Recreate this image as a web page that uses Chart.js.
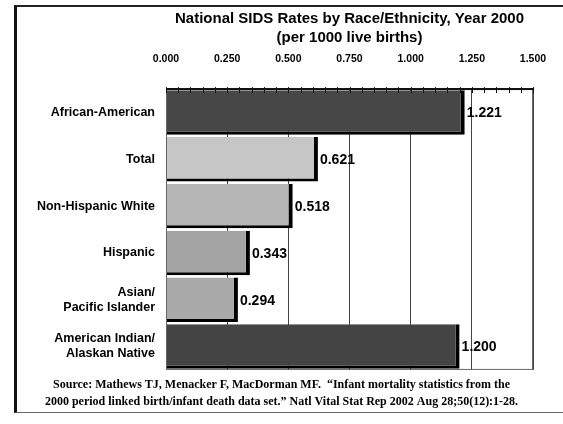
<!DOCTYPE html>
<html>
<head>
<meta charset="utf-8">
<script src="https://cdn.jsdelivr.net/npm/chart.js@4/dist/chart.umd.min.js"></script>
<style>
  html, body { margin: 0; padding: 0; background: #fff; overflow: hidden; }
  #wrap { position: relative; width: 563px; height: 424px; }
  canvas { display: block; }
  #frame { position: absolute; left: 14px; top: 5px; width: 560px; height: 408px;
           border-left: 3px solid #111; border-top: 2px solid #222; border-bottom: 1px solid #666;
           pointer-events: none; box-sizing: border-box; }
</style>
</head>
<body>
<div id="wrap">
  <canvas id="c" width="563" height="424"></canvas>
  <div id="frame"></div>
</div>
<script>
const categories = [
  "African-American",
  "Total",
  "Non-Hispanic White",
  "Hispanic",
  ["Asian/", "Pacific Islander"],
  ["American Indian/", "Alaskan Native"]
];
const rates = [1.221, 0.621, 0.518, 0.343, 0.294, 1.200];
const barColors = ["#474747", "#c6c6c6", "#b6b6b6", "#a4a4a4", "#a9a9a9", "#444444"];
const titleLines = ["National SIDS Rates by Race/Ethnicity, Year 2000", "(per 1000 live births)"];
const sourceLines = [
  "Source: Mathews TJ, Menacker F, MacDorman MF.  \u201cInfant mortality statistics from the",
  "2000 period linked birth/infant death data set.\u201d Natl Vital Stat Rep 2002 Aug 28;50(12):1-28."
];
const axisMin = 0, axisMax = 1.5, axisStep = 0.25, minorStep = 0.05;

const decor = {
  id: 'decor',
  afterDatasetsDraw(chart) {
    const { ctx, chartArea: a, scales: { x } } = chart;
    ctx.save();
    ctx.strokeStyle = '#666';
    ctx.lineWidth = 1;
    ctx.strokeRect(a.left + 0.5, a.top + 0.5, a.right - a.left - 1, a.bottom - a.top - 1);
    ctx.strokeStyle = '#111';
    ctx.lineWidth = 2;
    ctx.beginPath();
    ctx.moveTo(a.left, a.top);
    ctx.lineTo(a.right, a.top);
    ctx.stroke();
    ctx.lineWidth = 1;
    const n = Math.round((axisMax - axisMin) / minorStep);
    for (let i = 0; i <= n; i++) {
      const px = Math.round(x.getPixelForValue(axisMin + i * minorStep)) + 0.5;
      ctx.beginPath();
      ctx.moveTo(px, a.top - 2);
      ctx.lineTo(px, a.top + 4);
      ctx.stroke();
    }
    ctx.fillStyle = '#000';
    ctx.font = 'bold 14px "Liberation Sans", Arial, sans-serif';
    ctx.textAlign = 'left';
    ctx.textBaseline = 'middle';
    const meta = chart.getDatasetMeta(0);
    meta.data.forEach((bar, i) => {
      ctx.fillText(rates[i].toFixed(3), bar.x + 2, bar.y + 1);
    });
    ctx.restore();
  }
};

new Chart(document.getElementById('c'), {
  type: 'bar',
  data: {
    labels: categories,
    datasets: [{
      data: rates,
      backgroundColor: barColors,
      borderColor: '#000',
      borderWidth: { top: 0, left: 0, right: 4, bottom: 3 },
      borderSkipped: false,
      barPercentage: 0.95,
      categoryPercentage: 1.0
    }]
  },
  options: {
    indexAxis: 'y',
    responsive: false,
    animation: false,
    devicePixelRatio: 1,
    layout: { padding: { top: 9, right: 30, bottom: 14, left: 30 } },
    plugins: {
      legend: { display: false },
      tooltip: { enabled: false },
      title: {
        display: true,
        text: titleLines,
        fullSize: false,
        color: '#000',
        font: { family: '"Liberation Sans", Arial, sans-serif', size: 15, weight: 'bold', lineHeight: 1.27 },
        padding: { top: 0, bottom: 0 }
      },
      subtitle: {
        display: true,
        position: 'bottom',
        text: sourceLines,
        color: '#000',
        font: { family: '"Liberation Serif", "Times New Roman", serif', size: 12, weight: 'bold', lineHeight: 1.42 },
        padding: { top: 6, bottom: 0 }
      }
    },
    scales: {
      x: {
        position: 'top',
        min: axisMin,
        max: axisMax,
        afterFit(scale) { scale.height = 42; },
        ticks: {
          stepSize: axisStep,
          padding: 0,
          color: '#000',
          font: { family: '"Liberation Sans", Arial, sans-serif', size: 10.5, weight: 'bold' },
          callback: (v) => Number(v).toFixed(3)
        },
        grid: { color: '#444', lineWidth: 1, drawTicks: true, tickLength: 24, tickColor: 'rgba(0,0,0,0)' },
        border: { display: false }
      },
      y: {
        afterFit(scale) { scale.width = 136; },
        ticks: {
          padding: 11,
          color: '#000',
          font: { family: '"Liberation Sans", Arial, sans-serif', size: 12.5, weight: 'bold', lineHeight: 1.2 }
        },
        grid: { display: false, drawTicks: false, tickLength: 0 },
        border: { display: false }
      }
    }
  },
  plugins: [decor]
});
</script>
</body>
</html>
